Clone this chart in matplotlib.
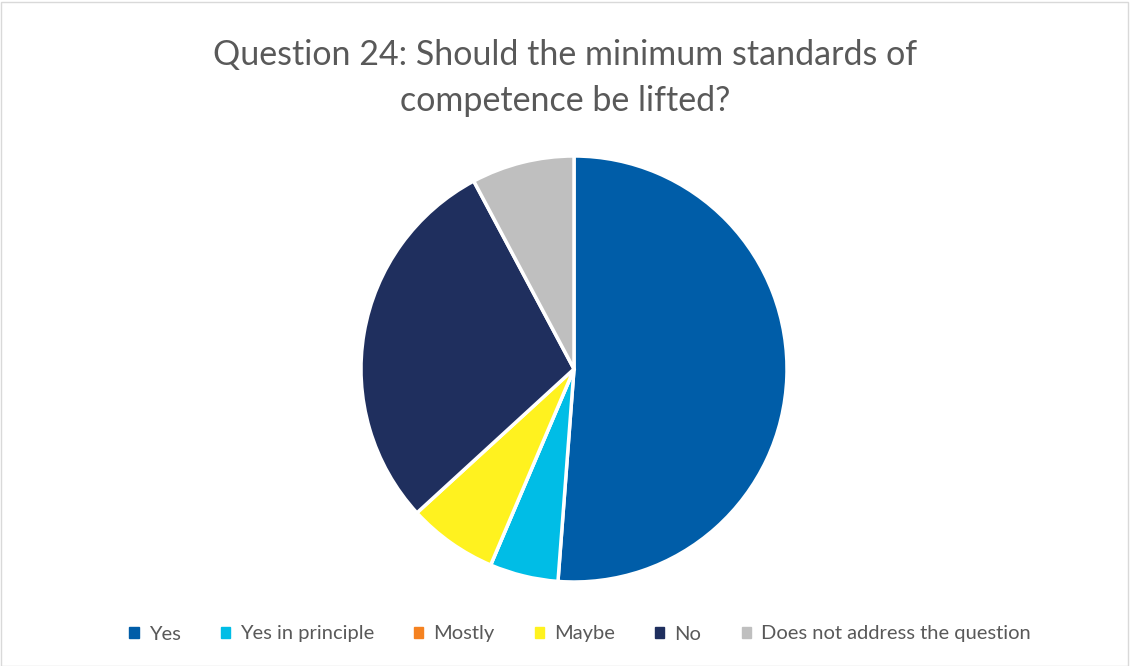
import matplotlib.pyplot as plt
from matplotlib.patches import Rectangle

plt.rcParams['font.family'] = ['Lato', 'DejaVu Sans']

labels = ["Yes", "Yes in principle", "Mostly", "Maybe", "No",
          "Does not address the question"]
shares = [51.2, 5.2, 0.0, 6.8, 29.0, 7.8]
colors = ["#005DA8", "#00BDE6", "#F58220", "#FFF21F", "#1F2F5E", "#BFBFBF"]

W, H = 1130, 666
fig = plt.figure(figsize=(W / 100, H / 100), dpi=100)

# light frame around the chart area
fig.add_artist(Rectangle((0.5 / W, 0.5 / H), 1 - 2.5 / W, 1 - 2.5 / H,
                         transform=fig.transFigure, fill=False,
                         edgecolor="#D9D9D9", linewidth=1))

cx, cy, r = 574, 369, 213
ax = fig.add_axes([(cx - r) / W, 1 - (cy + r) / H, 2 * r / W, 2 * r / H])
ax.pie(shares, colors=colors, startangle=90, counterclock=False,
       wedgeprops=dict(edgecolor="white", linewidth=2.5))
ax.set_xlim(-1, 1)
ax.set_ylim(-1, 1)
ax.set_aspect("equal")

fig.text(0.5, 1 - 55 / H, "Question 24: Should the minimum standards of",
         ha="center", va="center", fontsize=24.5, color="#595959")
fig.text(0.5, 1 - 101 / H, "competence be lifted?",
         ha="center", va="center", fontsize=24.5, color="#595959")

handles = [Rectangle((0, 0), 1, 1, color=c) for c in colors]
fig.legend(handles, labels, loc="center", bbox_to_anchor=(580 / W, 1 - 634 / H),
           ncol=6, frameon=False, fontsize=14.5, handlelength=0.45,
           handleheight=0.45, handletextpad=0.5, columnspacing=2.0,
           labelcolor="#595959")

fig.savefig("out.png", dpi=100)
